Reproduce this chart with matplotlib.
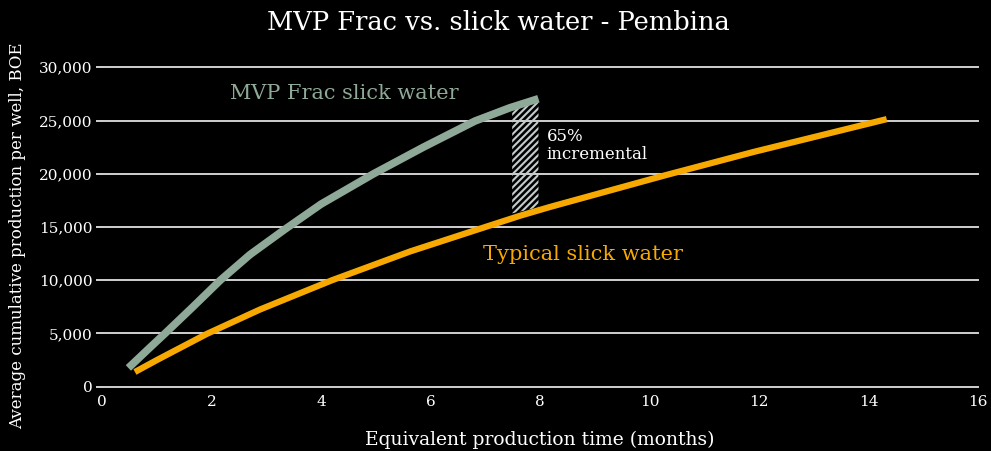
import matplotlib.pyplot as plt

# MVP Frac slick water (months, BOE)
mvp_x = [0.48, 0.90, 1.15, 1.67, 2.16, 2.70, 3.33, 4.00, 4.96, 5.87, 6.81, 7.45, 7.97]
mvp_y = [1760, 3800, 5000, 7550, 10000, 12400, 14750, 17150, 20000, 22500, 24950, 26200, 27050]

# Typical slick water
typ_x = [0.60, 1.00, 1.91, 2.885, 4.20, 5.625, 7.00, 7.63, 8.18, 10.28, 11.90, 14.33]
typ_y = [1380, 2500, 4950, 7250, 10000, 12700, 15000, 16050, 16880, 19850, 22050, 25130]

# incremental band at ~8 months
band_x = [7.49, 7.97]
band_top = [26000, 26800]
band_bottom = [16280, 16850]

yticks = [0, 5000, 10000, 15000, 20000, 25000, 30000]
xticks = [0, 2, 4, 6, 8, 10, 12, 14, 16]

plt.rcParams['font.family'] = ['DejaVu Serif']
plt.rcParams['hatch.linewidth'] = 1.5

fig = plt.figure(figsize=(9.91, 4.51), dpi=100, facecolor='black')
ax = fig.add_axes([0.103, 0.1426, 0.884, 0.7082])
ax.set_facecolor('black')

for y in yticks:
    ax.axhline(y, color='#d0d0d0', linewidth=1.4, clip_on=False, zorder=1)

ax.fill_between(band_x, band_bottom, band_top, facecolor='none',
                edgecolor='#c4cccc', hatch='/////', linewidth=0, zorder=2)

ax.plot(mvp_x, mvp_y, color='#8fa998', linewidth=5.5, solid_capstyle='butt',
        solid_joinstyle='round', zorder=3)
ax.plot(typ_x, typ_y, color='#f7a900', linewidth=4.5, solid_capstyle='butt',
        solid_joinstyle='round', zorder=4)

ax.set_xlim(0, 16)
ax.set_ylim(0, 30000)
ax.set_xticks(xticks)
ax.set_yticks(yticks)
ax.set_yticklabels([f'{v:,}' for v in yticks])
ax.tick_params(axis='y', colors='#d0d0d0', length=4, width=1.4, pad=3,
               labelcolor='white', labelsize=11)
ax.tick_params(axis='x', length=0, pad=6, labelcolor='white', labelsize=11)
for s in ax.spines.values():
    s.set_visible(False)

fig.text(0.503, 0.951, 'MVP Frac vs. slick water - Pembina', ha='center', va='center',
         color='white', fontsize=18.5)
fig.text(0.545, 0.024, 'Equivalent production time (months)', ha='center', va='center',
         color='white', fontsize=13.5)
fig.text(0.018, 0.478, 'Average cumulative production per well, BOE', ha='center',
         va='center', rotation=90, color='white', fontsize=12)

ax.text(2.34, 27520, 'MVP Frac slick water', color='#8fa998', fontsize=15, va='center')
ax.text(6.96, 12370, 'Typical slick water', color='#f7a900', fontsize=15, va='center')
ax.text(8.12, 22650, '65%\nincremental', color='white', fontsize=12, va='center',
        linespacing=1.05)

fig.savefig('out.png', dpi=100, facecolor='black')
